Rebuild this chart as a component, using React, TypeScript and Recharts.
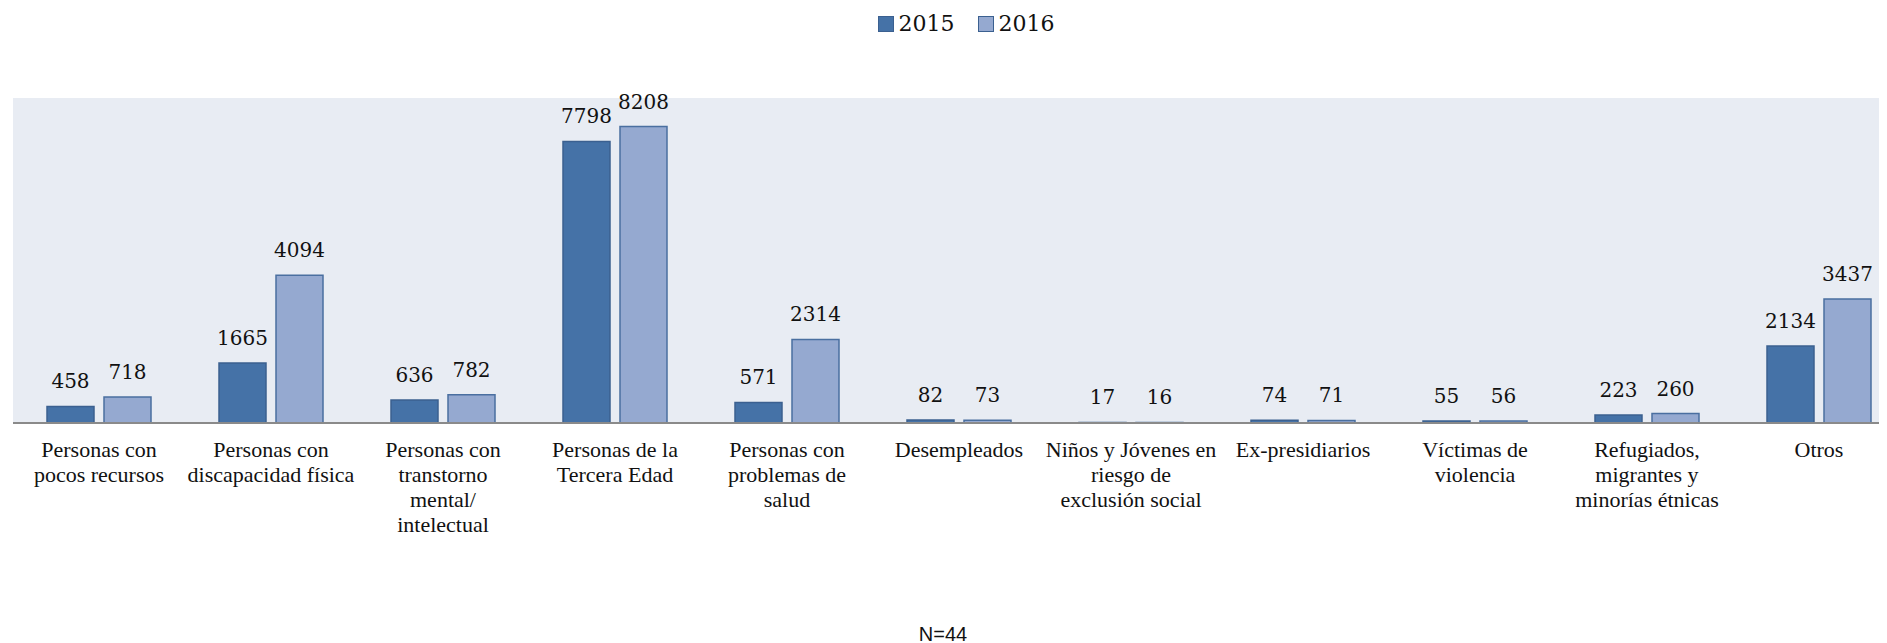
import { Bar, BarChart, CartesianGrid, LabelList, Legend, XAxis, YAxis } from "recharts";

const categories = [
    ["Personas con", "pocos recursos"],
    ["Personas con", "discapacidad física"],
    ["Personas con", "transtorno", "mental/", "intelectual"],
    ["Personas de la", "Tercera Edad"],
    ["Personas con", "problemas de", "salud"],
    ["Desempleados"],
    ["Niños y Jóvenes en", "riesgo de", "exclusión social"],
    ["Ex-presidiarios"],
    ["Víctimas de", "violencia"],
    ["Refugiados,", "migrantes y", "minorías étnicas"],
    ["Otros"],
];

const values2015 = [458, 1665, 636, 7798, 571, 82, 17, 74, 55, 223, 2134];
const values2016 = [718, 4094, 782, 8208, 2314, 73, 16, 71, 56, 260, 3437];

const data = categories.map((lines, i) => ({
    name: lines.join(" "),
    y2015: values2015[i],
    y2016: values2016[i],
}));

const labelFont = "'DejaVu Serif', serif";
const catFont = "'Liberation Serif', serif";

const CategoryTick = (props: any) => {
    const { x, y, index } = props;
    const lines = categories[index] || [];
    return (
        <text x={x} y={y} textAnchor="middle" fill="#111" fontFamily={catFont} fontSize={22}>
            {lines.map((line, i) => (
                <tspan key={i} x={x} dy={i === 0 ? 34 : 25}>
                    {line}
                </tspan>
            ))}
        </text>
    );
};

const LegendContent = (props: any) => {
    const { payload } = props;
    return (
        <div style={{ display: "flex", justifyContent: "center", alignItems: "center", gap: 23 }}>
            {payload.map((entry: any) => (
                <div key={entry.value} style={{ display: "flex", alignItems: "center", gap: 5 }}>
                    <span
                        style={{
                            display: "inline-block",
                            width: 14,
                            height: 14,
                            background: entry.color,
                            border: "1px solid #3b6090",
                        }}
                    />
                    <span style={{ fontFamily: labelFont, fontSize: 22, color: "#111" }}>{entry.value}</span>
                </div>
            ))}
        </div>
    );
};

export default function App() {
    return (
        <div style={{ position: "relative", width: 1879, height: 645, overflow: "hidden" }}>
            <BarChart
                width={1920}
                height={635}
                data={data}
                margin={{ top: 90, right: 23, left: 5, bottom: 0 }}
                barSize={47}
                barGap={10}
            >
                <CartesianGrid fill="#e8ecf3" stroke="none" horizontal={false} vertical={false} />
                <XAxis
                    dataKey="name"
                    height={220}
                    interval={0}
                    tickLine={false}
                    tickSize={0}
                    tickMargin={0}
                    axisLine={{ stroke: "#8a8a8a", strokeWidth: 2 }}
                    tick={<CategoryTick />}
                />
                <YAxis hide domain={[0, 9000]} />
                <Legend
                    verticalAlign="middle"
                    align="center"
                    content={<LegendContent />}
                    wrapperStyle={{ top: 3, left: 0, width: 1916 }}
                />
                <Bar dataKey="y2015" name="2015" fill="#4572a7" stroke="#3b6090" strokeWidth={1.5} isAnimationActive={false}>
                    <LabelList dataKey="y2015" position="top" offset={18} fill="#111" fontFamily={labelFont} fontSize={20} />
                </Bar>
                <Bar dataKey="y2016" name="2016" fill="#95a9d0" stroke="#4a6fa0" strokeWidth={1.5} isAnimationActive={false}>
                    <LabelList dataKey="y2016" position="top" offset={18} fill="#111" fontFamily={labelFont} fontSize={20} />
                </Bar>
            </BarChart>
            <div
                style={{
                    position: "absolute",
                    left: 0,
                    top: 616,
                    width: 1870,
                    textAlign: "center",
                    fontFamily: "'Liberation Sans', Arial, sans-serif",
                    fontSize: 20,
                    lineHeight: "20px",
                    color: "#111",
                }}
            >
                N=44
            </div>
        </div>
    );
}
